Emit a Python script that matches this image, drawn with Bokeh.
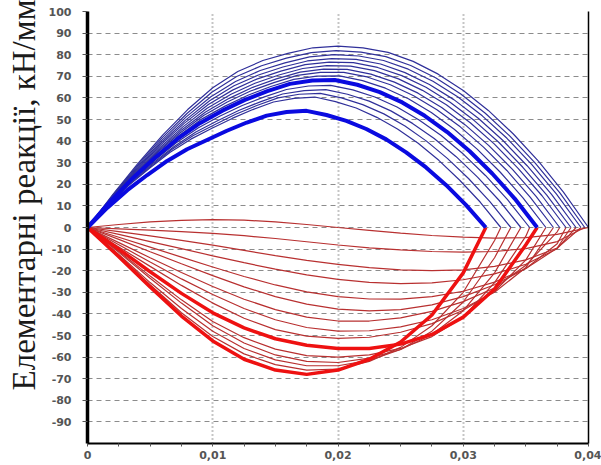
from bokeh.plotting import figure
from bokeh.models import FixedTicker, LinearAxis, Range1d, Title
from bokeh.embed import file_html
from bokeh.resources import INLINE

# ---------------- data ----------------
# end point (x) of every curve pair, same for the blue and red curve of a pair
curve_ends = [0.0318, 0.0330, 0.0338, 0.0346, 0.0353, 0.0359, 0.0366, 0.0372,
              0.0377, 0.0382, 0.0386, 0.0390, 0.0394, 0.0397, 0.0400]
thick_curves = [0, 5]

# blue curves: sampled at fractions of each curve's length
blue_frac = [0, 0.05, 0.1, 0.15, 0.2, 0.25, 0.3, 0.35, 0.4, 0.45, 0.5,
             0.55, 0.6, 0.65, 0.7, 0.75, 0.8, 0.85, 0.9, 0.95, 1.0]
blue_vals = [
    [0, 9.2, 17.3, 24.3, 30.8, 36.2, 40.5, 44.8, 48.6, 51.8, 53.5, 54.0, 52.1, 49.4, 45.6, 40.8, 34.8, 27.8, 19.7, 10.5, 0],
    [0, 10.3, 19.5, 27.4, 34.8, 40.9, 45.8, 50.5, 54.6, 58.1, 59.8, 60.4, 58.3, 55.3, 51.0, 45.6, 39.0, 31.1, 22.0, 11.8, 0],
    [0, 10.7, 20.2, 28.5, 36.2, 42.6, 47.6, 52.4, 56.5, 60.0, 61.7, 62.1, 60.0, 56.9, 52.6, 47.0, 40.1, 32.0, 22.7, 12.1, 0],
    [0, 11.0, 20.9, 29.6, 37.5, 44.2, 49.4, 54.3, 58.3, 61.8, 63.4, 63.8, 61.7, 58.5, 54.0, 48.2, 41.2, 32.9, 23.3, 12.5, 0],
    [0, 11.4, 21.7, 30.8, 39.1, 46.1, 51.6, 56.5, 60.5, 63.9, 65.5, 65.8, 63.7, 60.4, 55.8, 49.8, 42.6, 34.0, 24.1, 12.9, 0],
    [0, 11.9, 22.7, 32.3, 41.0, 48.3, 54.1, 59.1, 63.1, 66.5, 68.1, 68.3, 66.1, 62.7, 57.9, 51.7, 44.2, 35.3, 25.0, 13.4, 0],
    [0, 12.3, 23.5, 33.5, 42.6, 50.3, 56.2, 61.2, 65.3, 68.6, 70.1, 70.2, 68.0, 64.5, 59.6, 53.2, 45.5, 36.3, 25.7, 13.7, 0],
    [0, 12.6, 24.2, 34.7, 44.0, 52.0, 58.1, 63.2, 67.1, 70.4, 71.8, 71.8, 69.7, 66.1, 61.0, 54.5, 46.6, 37.2, 26.4, 14.1, 0],
    [0, 12.9, 24.8, 35.6, 45.3, 53.5, 59.8, 64.9, 68.8, 71.9, 73.3, 73.2, 71.0, 67.3, 62.2, 55.6, 47.5, 37.9, 26.9, 14.4, 0],
    [0, 13.3, 25.5, 36.7, 46.7, 55.2, 61.7, 66.8, 70.6, 73.6, 74.9, 74.7, 72.6, 68.8, 63.5, 56.8, 48.5, 38.7, 27.4, 14.7, 0],
    [0, 13.6, 26.2, 37.9, 48.2, 56.9, 63.6, 68.7, 72.4, 75.4, 76.6, 76.3, 74.1, 70.3, 64.9, 58.0, 49.5, 39.6, 28.0, 15.0, 0],
    [0, 13.9, 26.9, 39.0, 49.6, 58.7, 65.6, 70.6, 74.3, 77.1, 78.2, 77.8, 75.7, 71.7, 66.2, 59.2, 50.6, 40.4, 28.6, 15.3, 0],
    [0, 14.3, 27.7, 40.2, 51.2, 60.5, 67.6, 72.7, 76.2, 79.0, 80.0, 79.4, 77.3, 73.3, 67.7, 60.5, 51.7, 41.3, 29.2, 15.6, 0],
    [0, 14.7, 28.5, 41.5, 52.8, 62.6, 69.9, 74.9, 78.4, 81.0, 81.9, 81.2, 79.1, 75.0, 69.3, 61.9, 52.9, 42.2, 29.9, 16.0, 0],
    [0, 15.1, 29.4, 42.8, 54.6, 64.7, 72.2, 77.3, 80.6, 83.2, 84.0, 83.2, 81.1, 76.9, 71.0, 63.4, 54.2, 43.3, 30.7, 16.4, 0],
]

# red curves: sampled on a common x grid (points below the curve end) + end point
red_grid = [0, 0.0025, 0.005, 0.0075, 0.01, 0.0125, 0.015, 0.0175, 0.02,
            0.0225, 0.025, 0.0275, 0.03, 0.0325, 0.035, 0.0375]
red_vals = [
    [0, -13.5, -27.5, -41, -52.5, -61, -66, -68, -66, -61, -53, -40.5, -21, 0],
    [0, -13, -26.5, -39.5, -50.5, -58.5, -63.5, -66, -65.5, -62, -55.5, -45.5, -30, -6, 0],
    [0, -12.5, -25.5, -37.5, -48, -56, -61.3, -64, -64, -61.5, -56.5, -48, -34.5, -14, 0],
    [0, -11.5, -23.5, -35, -45.5, -53.5, -59, -62, -62.5, -60.5, -56.5, -49.5, -38.5, -21, 0],
    [0, -11, -22.5, -33.5, -43.5, -51, -56.3, -59.3, -60, -59, -56, -50.5, -41.5, -25.5, -4, 0],
    [0, -10, -20.5, -30.5, -39.5, -46.5, -51.5, -54.5, -56, -56, -54, -49.5, -41.5, -28.5, -8, 0],
    [0, -9, -18, -26.8, -35, -42, -47.3, -50.3, -51.3, -50.8, -48.5, -44.5, -38.3, -29.5, -15, 0],
    [0, -8, -16, -23.8, -31, -37.5, -42.7, -46.3, -48, -47.8, -46, -42.7, -37.5, -30, -18.5, 0],
    [0, -7, -14, -20.8, -27.3, -33.2, -38, -41.5, -43.3, -43.3, -41.8, -38.8, -34.3, -28, -17.5, -2, 0],
    [0, -5.5, -11.2, -16.8, -22.3, -27.5, -32, -35.5, -37.8, -38.6, -38, -35.8, -32, -26.5, -19, -7.5, 0],
    [0, -4.5, -9.1, -13.7, -18.3, -22.7, -26.6, -29.8, -32, -33.1, -33.2, -32, -29.5, -25.3, -19, -9.5, 0],
    [0, -3.2, -6.5, -9.8, -13.1, -16.3, -19.3, -21.9, -24, -25.4, -26, -25.6, -24.2, -21.5, -17, -9.8, 0],
    [0, -1.9, -3.9, -6, -8.2, -10.6, -13, -15.2, -17.1, -18.6, -19.6, -20, -19.6, -18, -15, -9.5, 0],
    [0, -0.6, -1.2, -1.9, -2.7, -3.8, -5.1, -6.6, -8.1, -9.4, -10.4, -11.1, -11.4, -11.1, -9.8, -6.5, 0],
    [0, 1.4, 2.6, 3.3, 3.6, 3.4, 2.6, 1.4, 0, -1.3, -2.6, -3.7, -4.5, -4.9, -4.7, -3.2, 0],
]

x_ticks = [0, 0.01, 0.02, 0.03, 0.04]
x_tick_labels = ["0", "0,01", "0,02", "0,03", "0,04"]
x_minor_ticks = [0.0025, 0.005, 0.0075, 0.0125, 0.015, 0.0175, 0.0225, 0.025,
                 0.0275, 0.0325, 0.035, 0.0375]
y_ticks = [100, 90, 80, 70, 60, 50, 40, 30, 20, 10, 0, -10, -20, -30, -40, -50,
           -60, -70, -80, -90]
y_tick_labels = ["100", "90", "80", "70", "60", "50", "40", "30", "20", "10", "0",
                 "-10", "-20", "-30", "-40", "-50", "-60", "-70", "-80", "-90"]
y_grid = [100, 90, 80, 70, 60, 50, 40, 30, 20, 10, 0, -10, -20, -30, -40, -50,
          -60, -70, -80, -90]
y_title = "Елементарні реакції, кН/мм"

# ---------------- figure ----------------
p = figure(width=601, height=465, output_backend="svg", toolbar_location=None,
           x_range=Range1d(0, 0.04), y_range=Range1d(-100, 100),
           min_border_left=87, min_border_right=13, min_border_top=11,
           min_border_bottom=22, background_fill_color="white",
           border_fill_color="white")
p.outline_line_color = None

# grid
p.ygrid.ticker = FixedTicker(ticks=y_grid)
p.ygrid.grid_line_color = "#8c8c8c"
p.ygrid.grid_line_dash = "5 4"
p.ygrid.grid_line_width = 1
p.xgrid.ticker = FixedTicker(ticks=x_ticks)
p.xgrid.grid_line_color = "#8c8c8c"
p.xgrid.grid_line_dash = "1 3"
p.xgrid.grid_line_width = 2

# x axis
p.xaxis.ticker = FixedTicker(ticks=x_ticks, minor_ticks=x_minor_ticks)
p.xaxis.major_label_overrides = {t: s for t, s in zip(x_ticks, x_tick_labels)}
p.xaxis.axis_line_width = 2
p.xaxis.axis_line_color = "black"
p.xaxis.major_tick_in = 0
p.xaxis.major_tick_out = 3
p.xaxis.minor_tick_in = 0
p.xaxis.minor_tick_out = 3
p.xaxis.major_tick_line_color = "#555555"
p.xaxis.minor_tick_line_color = "#555555"
p.xaxis.major_label_standoff = 4
p.xaxis.major_label_text_font = "DejaVu Sans"
p.xaxis.major_label_text_font_style = "bold"
p.xaxis.major_label_text_font_size = "11px"
p.xaxis.major_label_text_color = "#555555"

# y axis
p.yaxis.ticker = FixedTicker(ticks=y_ticks)
p.yaxis.major_label_overrides = {t: s for t, s in zip(y_ticks, y_tick_labels)}
p.yaxis.axis_line_width = 3.5
p.yaxis.axis_line_color = "black"
p.yaxis.major_tick_in = 0
p.yaxis.major_tick_out = 5
p.yaxis.major_tick_line_color = "#555555"
p.yaxis.minor_tick_line_color = None
p.yaxis.major_label_standoff = 11
p.yaxis.major_label_text_font = "DejaVu Sans"
p.yaxis.major_label_text_font_style = "bold"
p.yaxis.major_label_text_font_size = "11px"
p.yaxis.major_label_text_color = "#555555"

# right border line
ra = LinearAxis(ticker=FixedTicker(ticks=[]), axis_line_width=1.5,
                axis_line_color="black", major_label_text_font_size="0px",
                major_tick_line_color=None, minor_tick_line_color=None)
p.add_layout(ra, "right")

# y title in the left margin, starting above the frame bottom
p.add_layout(Title(text=y_title, align="left", offset=53,
                   text_font="Liberation Serif", text_font_size="33px",
                   text_font_style="normal", text_color="#1a1a1a",
                   standoff=7), "left")

# ---------------- curves ----------------
order = [i for i in range(len(curve_ends)) if i not in thick_curves] + thick_curves

for i in order:
    end = curve_ends[i]
    xs = [g for g in red_grid if g < end - 1e-9] + [end]
    ys = red_vals[i]
    assert len(xs) == len(ys), (i, len(xs), len(ys))
    if i in thick_curves:
        p.line(xs, ys, line_color="#ee1111", line_width=3.5)
    else:
        p.line(xs, ys, line_color="#b83030", line_width=1.2)

for i in order:
    end = curve_ends[i]
    xs = [f * end for f in blue_frac]
    ys = blue_vals[i]
    assert len(xs) == len(ys), (i, len(xs), len(ys))
    if i in thick_curves:
        p.line(xs, ys, line_color="#0a0ae0", line_width=4)
    else:
        p.line(xs, ys, line_color="#30309a", line_width=1.2)

open("out.html", "w").write(file_html(p, INLINE))
